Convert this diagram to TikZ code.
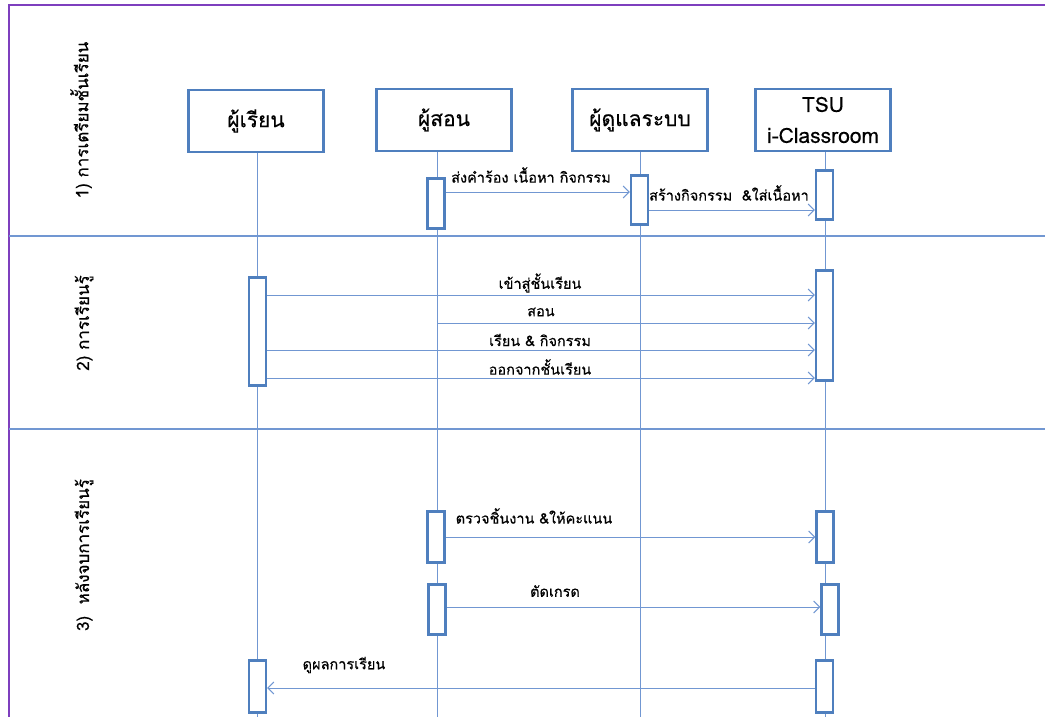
\documentclass[tikz,border=0pt]{standalone}
\usepackage{fontspec}
\setmainfont{Loma}
\newfontfamily\thaifont[Script=Thai, FakeBold=0.4]{Loma}
\usetikzlibrary{arrows.meta}
\definecolor{boxblue}{HTML}{4F7FBE}
\definecolor{lineblue}{HTML}{7197D2}
\definecolor{framepurple}{HTML}{7E3FBE}
\tikzset{
  actor/.style={draw=boxblue, line width=2.2pt, minimum width=135pt, minimum height=62pt,
    align=center, font=\thaifont\fontsize{21}{31}\selectfont},
  act/.style={draw=boxblue, line width=2.2pt, fill=white, minimum width=17pt, inner sep=0pt},
  life/.style={draw=lineblue, line width=1pt},
  msg/.style={draw=lineblue, line width=1pt, -{Straight Barb[length=6pt,width=12pt]}},
  lbl/.style={font=\thaifont\fontsize{14.5}{16}\selectfont, inner sep=0pt},
  lane/.style={rotate=90, font=\thaifont\fontsize{17}{19}\selectfont, inner sep=0pt},
  lanesep/.style={draw=lineblue, line width=1.3pt},
}
\begin{document}
\begin{tikzpicture}[x=1pt,y=-1pt]
  \useasboundingbox (0,0) rectangle (1045,717);
  % frame and phases
  \draw[framepurple, line width=2pt] (9,717) -- (9,5) -- (1045,5);
  \draw[lanesep] (9,236) -- (1045,236);
  \draw[lanesep] (9,429) -- (1045,429);
  \node[lane] (phase1) at (81,120) {1) การเตรียมชั้นเรียน};
  \node[lane] (phase2) at (84,323) {2) การเรียนรู้};
  \node[lane] (phase3) at (84,555) {3)\ \ หลังจบการเรียนรู้};

  % actors
  \node[actor] (learner) at (256,121) {ผู้เรียน};
  \node[actor] (teacher) at (444,120) {ผู้สอน};
  \node[actor] (admin) at (640,120) {ผู้ดูแลระบบ};
  \node[actor] (tsu) at (823,120) {TSU\\i-Classroom};

  % lifelines
  \foreach \who/\x in {learner/257, teacher/437, admin/640, tsu/825}
    \draw[life] (\who.south -| \x,0) -- (\x,717);

  % activations
  \node[act, minimum height=50pt] (t1) at (436,203.5) {};
  \node[act, minimum height=49pt] (a1) at (639.5,200) {};
  \node[act, minimum height=49pt] (s1) at (824.5,195) {};
  \node[act, minimum height=108pt] (l2) at (257.5,331.5) {};
  \node[act, minimum height=110pt] (s2) at (824.5,325.5) {};
  \node[act, minimum height=51pt] (t3) at (436,537) {};
  \node[act, minimum height=51pt] (s3) at (825,537) {};
  \node[act, minimum height=50pt] (t4) at (437,609.5) {};
  \node[act, minimum height=50pt] (s4) at (830,609.5) {};
  \node[act, minimum height=52pt] (l5) at (257.5,686.5) {};
  \node[act, minimum height=52pt] (s5) at (824.5,686.5) {};

  % messages
  \draw[msg] (t1.east |- 0,192) -- (a1.west |- 0,192);
  \node[lbl] (m1) at (531,175) {ส่งคำร้อง เนื้อหา กิจกรรม};
  \draw[msg] (a1.east |- 0,210) -- (s1.west |- 0,210);
  \node[lbl] (m2) at (729,193) {สร้างกิจกรรม\ \ \&ใส่เนื้อหา};

  \draw[msg] (l2.east |- 0,295) -- (s2.west |- 0,295);
  \node[lbl] (m3) at (540,283) {เข้าสู่ชั้นเรียน};
  \draw[msg] (437,323) -- (s2.west |- 0,323);
  \node[lbl] (m4) at (541,312) {สอน};
  \draw[msg] (l2.east |- 0,350) -- (s2.west |- 0,350);
  \node[lbl] (m5) at (540,340) {เรียน \& กิจกรรม};
  \draw[msg] (l2.east |- 0,378) -- (s2.west |- 0,378);
  \node[lbl] (m6) at (540,367) {ออกจากชั้นเรียน};

  \draw[msg] (t3.east |- 0,537) -- (s3.west |- 0,537);
  \node[lbl] (m7) at (534,516) {ตรวจชิ้นงาน \&ให้คะแนน};
  \draw[msg] (t4.east |- 0,607) -- (s4.west |- 0,607);
  \node[lbl] (m8) at (555,591) {ตัดเกรด};
  \draw[msg] (s5.west |- 0,688) -- (l5.east |- 0,688);
  \node[lbl] (m9) at (344,665) {ดูผลการเรียน};
\end{tikzpicture}
\end{document}
